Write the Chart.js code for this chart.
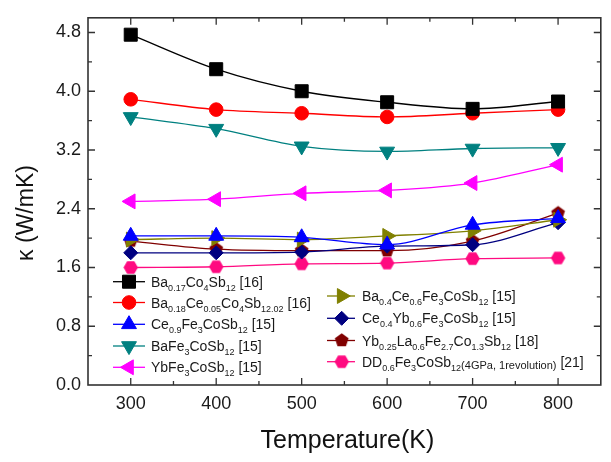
<!DOCTYPE html>
<html><head><meta charset="utf-8">
<script src="https://cdn.jsdelivr.net/npm/chart.js@4/dist/chart.umd.min.js"></script>
<style>html,body{margin:0;padding:0;background:#fff}#wrap{width:611px;height:462px;position:relative}</style>
</head><body><div id="wrap"><canvas id="c"></canvas></div>
<script>
// ---- data ----
const temperatures = [300, 400, 500, 600, 700, 800];
const kBa017Co4Sb12 = [4.77, 4.30, 4.00, 3.85, 3.76, 3.86];
const kBa018Ce005Co4Sb12 = [3.89, 3.75, 3.70, 3.65, 3.70, 3.75];
const kCe09Fe3CoSb12 = [2.03, 2.03, 2.01, 1.91, 2.18, 2.27];
const kBaFe3CoSb12 = [3.65, 3.49, 3.25, 3.18, 3.22, 3.23];
const kYbFe3CoSb12 = [2.50, 2.53, 2.61, 2.65, 2.75, 3.00];
const kBa04Ce06Fe3CoSb12 = [1.98, 2.00, 1.98, 2.03, 2.10, 2.25];
const kCe04Yb06Fe3CoSb12 = [1.80, 1.80, 1.81, 1.89, 1.91, 2.21];
const kYb025La06Fe27Co13Sb12 = [1.96, 1.85, 1.83, 1.83, 1.96, 2.34];
const kDD06Fe3CoSb12 = [1.60, 1.61, 1.65, 1.66, 1.72, 1.73];
const xTicks = [300, 400, 500, 600, 700, 800];
const yTicks = [0, 0.8, 1.6, 2.4, 3.2, 4.0, 4.8];
// {..} = subscript, <..> = small text
const seriesLabels = [
  'Ba{0.17}Co{4}Sb{12} [16]',
  'Ba{0.18}Ce{0.05}Co{4}Sb{12.02} [16]',
  'Ce{0.9}Fe{3}CoSb{12} [15]',
  'BaFe{3}CoSb{12} [15]',
  'YbFe{3}CoSb{12} [15]',
  'Ba{0.4}Ce{0.6}Fe{3}CoSb{12} [15]',
  'Ce{0.4}Yb{0.6}Fe{3}CoSb{12} [15]',
  'Yb{0.25}La{0.6}Fe{2.7}Co{1.3}Sb{12} [18]',
  'DD{0.6}Fe{3}CoSb{12}<(4GPa, 1revolution)> [21]'
];
const seriesValues = [kBa017Co4Sb12, kBa018Ce005Co4Sb12, kCe09Fe3CoSb12, kBaFe3CoSb12, kYbFe3CoSb12,
  kBa04Ce06Fe3CoSb12, kCe04Yb06Fe3CoSb12, kYb025La06Fe27Co13Sb12, kDD06Fe3CoSb12];
const xTitle = 'Temperature(K)';
const yTitle = 'κ (W/mK)';

// ---- styles ----
function polyCanvas(n, r, color, rot) {
  const s = Math.ceil(r * 2 + 2);
  const c = document.createElement('canvas');
  c.width = s; c.height = s;
  const g = c.getContext('2d');
  g.beginPath();
  for (let i = 0; i < n; i++) {
    const a = rot + i * 2 * Math.PI / n;
    const px = s / 2 + r * Math.cos(a), py = s / 2 + r * Math.sin(a);
    i ? g.lineTo(px, py) : g.moveTo(px, py);
  }
  g.closePath();
  g.fillStyle = color; g.fill();
  return c;
}
const colors = ['#000000', '#ff0000', '#0000ff', '#008080', '#ff00ff', '#808000', '#000080', '#800000', '#ff0a80'];
const styles = [
  {pointStyle: 'rect', radius: 9.2, rotation: 0},
  {pointStyle: 'circle', radius: 6.8, rotation: 0},
  {pointStyle: 'triangle', radius: 8.6, rotation: 0},
  {pointStyle: 'triangle', radius: 8.6, rotation: 180},
  {pointStyle: 'triangle', radius: 8.6, rotation: -90},
  {pointStyle: 'triangle', radius: 8.6, rotation: 90},
  {pointStyle: 'rectRot', radius: 7, rotation: 0},
  {pointStyle: polyCanvas(5, 7.2, '#800000', -Math.PI / 2), radius: 7, rotation: 0},
  {pointStyle: polyCanvas(6, 7.2, '#ff0a80', 0), radius: 7, rotation: 0}
];

const datasets = seriesValues.map((vals, i) => ({
  label: seriesLabels[i].replace(/[{}<>]/g, ''),
  data: temperatures.map((t, j) => ({x: t, y: vals[j]})),
  borderColor: colors[i],
  backgroundColor: colors[i],
  borderWidth: 1.3,
  pointStyle: styles[i].pointStyle,
  pointRadius: styles[i].radius,
  pointRotation: styles[i].rotation,
  pointBorderWidth: 1,
  pointBorderColor: colors[i],
  pointBackgroundColor: colors[i],
  tension: 0.35,
  cubicInterpolationMode: 'monotone'
}));

const FONT = "'Liberation Sans', Arial, sans-serif";
const AXIS = '#333333';

function drawRich(ctx, text, x, y) {
  const parts = [];
  const re = /\{([^}]*)\}|<([^>]*)>|([^{<]+)/g;
  let m;
  while ((m = re.exec(text))) {
    if (m[1] !== undefined) parts.push({t: m[1], k: 'sub'});
    else if (m[2] !== undefined) parts.push({t: m[2], k: 'small'});
    else parts.push({t: m[3], k: 'main'});
  }
  ctx.textAlign = 'left'; ctx.textBaseline = 'alphabetic';
  for (const p of parts) {
    let dy = 0;
    if (p.k === 'main') ctx.font = '14px ' + FONT;
    else if (p.k === 'sub') { ctx.font = '9px ' + FONT; dy = 4; }
    else { ctx.font = '11px ' + FONT; dy = 2; }
    ctx.fillText(p.t, x, y + dy);
    x += ctx.measureText(p.t).width;
  }
}

const decor = {
  id: 'decor',
  afterDraw(chart) {
    const ctx = chart.ctx, a = chart.chartArea;
    const xs = chart.scales.x, ys = chart.scales.y;
    ctx.save();
    ctx.strokeStyle = AXIS; ctx.lineWidth = 1.6;
    ctx.strokeRect(a.left, a.top, a.right - a.left, a.bottom - a.top);
    ctx.lineWidth = 1.3;
    ctx.beginPath();
    // x ticks (inward, mirrored on top)
    for (let v = 250; v <= 850; v += 50) {
      const px = xs.getPixelForValue(v);
      if (px <= a.left + 1 || px >= a.right - 1) continue;
      const len = (v % 100 === 0) ? 7 : 4;
      ctx.moveTo(px, a.bottom); ctx.lineTo(px, a.bottom - len);
      ctx.moveTo(px, a.top); ctx.lineTo(px, a.top + len);
    }
    for (let k = 1; k <= 12; k++) {
      const v = k * 0.4;
      const py = ys.getPixelForValue(v);
      if (py <= a.top + 1) continue;
      const len = (k % 2 === 0) ? 7 : 4;
      ctx.moveTo(a.left, py); ctx.lineTo(a.left + len, py);
      ctx.moveTo(a.right, py); ctx.lineTo(a.right - len, py);
    }
    ctx.stroke();

    // axis titles
    ctx.fillStyle = '#111';
    ctx.font = '25px ' + FONT;
    ctx.textAlign = 'center'; ctx.textBaseline = 'alphabetic';
    ctx.fillText(xTitle, (a.left + a.right) / 2 + 3, 448);
    ctx.save();
    ctx.translate(33, 213);
    ctx.rotate(-Math.PI / 2);
    ctx.font = '23px ' + FONT;
    ctx.fillText(yTitle, 0, 0);
    ctx.restore();

    // legend
    const cols = [
      {lx0: 113, lx1: 145, mx: 129, tx: 151, ys: [281.7, 302.5, 324.3, 346, 367.3], idx: [0, 1, 2, 3, 4]},
      {lx0: 327, lx1: 355, mx: 341.7, tx: 362, ys: [296, 318.3, 340.5, 361.7], idx: [5, 6, 7, 8]}
    ];
    for (const c of cols) {
      c.idx.forEach((i, r) => {
        const y = c.ys[r];
        ctx.strokeStyle = colors[i]; ctx.lineWidth = 1.3;
        ctx.beginPath(); ctx.moveTo(c.lx0, y); ctx.lineTo(c.lx1, y); ctx.stroke();
        ctx.fillStyle = colors[i]; ctx.strokeStyle = colors[i]; ctx.lineWidth = 1;
        Chart.helpers.drawPoint(ctx, {pointStyle: styles[i].pointStyle, radius: styles[i].radius, rotation: styles[i].rotation, borderWidth: 1}, c.mx, y);
        ctx.fillStyle = '#1a1a1a';
        drawRich(ctx, seriesLabels[i], c.tx, y + 5);
      });
    }
    ctx.restore();
  }
};

new Chart(document.getElementById('c'), {
  type: 'line',
  data: {datasets},
  options: {
    responsive: true,
    maintainAspectRatio: false,
    animation: false,
    layout: {padding: {left: 0, top: 16, right: 3, bottom: 0}},
    plugins: {legend: {display: false}, tooltip: {enabled: false}},
    scales: {
      x: {
        type: 'linear', min: 250, max: 850,
        afterFit: s => { s.height = 77; },
        afterBuildTicks: s => { s.ticks = xTicks.map(v => ({value: v})); },
        grid: {display: false, drawTicks: false},
        border: {display: false},
        ticks: {font: {size: 18, family: FONT}, color: '#1a1a1a', padding: 8, maxRotation: 0, autoSkip: false,
          callback: v => String(v)}
      },
      y: {
        type: 'linear', min: 0, max: 5.0,
        afterFit: s => { s.width = 88; },
        afterBuildTicks: s => { s.ticks = yTicks.map(v => ({value: v})); },
        grid: {display: false, drawTicks: false},
        border: {display: false},
        ticks: {font: {size: 18, family: FONT}, color: '#1a1a1a', padding: 7, autoSkip: false,
          callback: v => Number(v).toFixed(1)}
      }
    }
  },
  plugins: [decor]
});
</script>
</body></html>
